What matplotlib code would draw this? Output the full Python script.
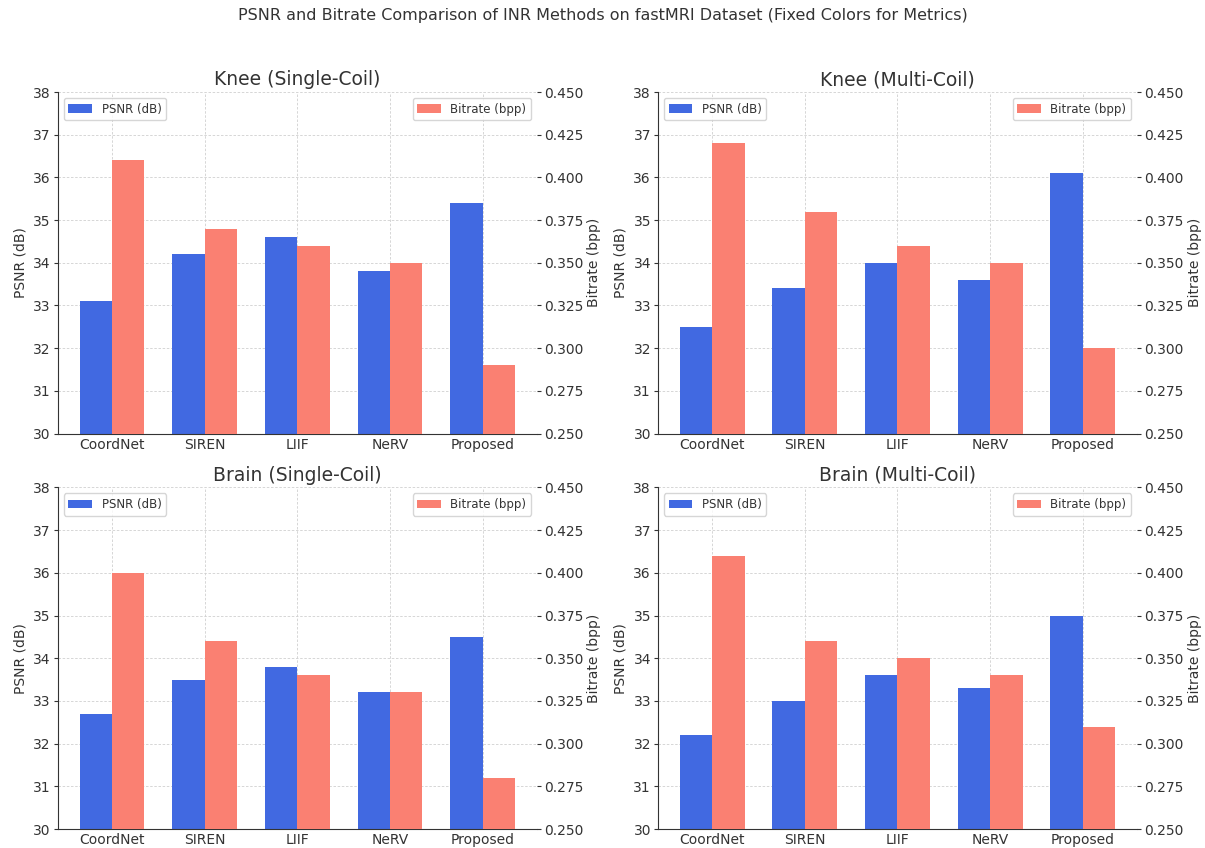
import matplotlib

matplotlib.use("Agg")
import matplotlib.pyplot as plt
import numpy as np

methods = ["CoordNet", "SIREN", "LIIF", "NeRV", "Proposed"]
panel_titles = [
    "Knee (Single-Coil)",
    "Knee (Multi-Coil)",
    "Brain (Single-Coil)",
    "Brain (Multi-Coil)",
]

psnr_knee_single = [33.1, 34.2, 34.6, 33.8, 35.4]
psnr_knee_multi = [32.5, 33.4, 34.0, 33.6, 36.1]
psnr_brain_single = [32.7, 33.5, 33.8, 33.2, 34.5]
psnr_brain_multi = [32.2, 33.0, 33.6, 33.3, 35.0]

bpp_knee_single = [0.41, 0.37, 0.36, 0.35, 0.29]
bpp_knee_multi = [0.42, 0.38, 0.36, 0.35, 0.30]
bpp_brain_single = [0.40, 0.36, 0.34, 0.33, 0.28]
bpp_brain_multi = [0.41, 0.36, 0.35, 0.34, 0.31]

psnr_sets = [psnr_knee_single, psnr_knee_multi, psnr_brain_single, psnr_brain_multi]
bpp_sets = [bpp_knee_single, bpp_knee_multi, bpp_brain_single, bpp_brain_multi]

psnr_color = "royalblue"
bpp_color = "salmon"
text_color = "#333333"
bar_width = 0.35

plt.rcParams["font.family"] = "DejaVu Sans"
plt.rcParams["text.color"] = text_color
plt.rcParams["axes.labelcolor"] = text_color
plt.rcParams["xtick.color"] = text_color
plt.rcParams["ytick.color"] = text_color

fig, axes = plt.subplots(2, 2, figsize=(12.05, 8.48), dpi=100)
fig.subplots_adjust(
    left=0.048, right=0.9436, top=0.8915, bottom=0.0224, wspace=0.2526, hspace=0.158
)

x = np.arange(len(methods))

for ax1, title, psnr, bpp in zip(axes.flat, panel_titles, psnr_sets, bpp_sets):
    ax1.bar(x - bar_width / 2, psnr, bar_width, color=psnr_color, label="PSNR (dB)")
    ax1.set_ylim(30, 38)
    ax1.set_ylabel("PSNR (dB)", fontsize=10, labelpad=4)
    ax1.set_xticks(x)
    ax1.set_xticklabels(methods, fontsize=10)
    ax1.tick_params(axis="x", length=0, pad=3)
    ax1.tick_params(axis="y", labelsize=10, length=3, pad=2)
    ax1.set_axisbelow(True)
    ax1.grid(True, linestyle=(0, (3, 2)), color="#d0d0d0", linewidth=0.6)
    ax1.spines["top"].set_visible(False)
    ax1.spines["right"].set_visible(False)
    ax1.spines["left"].set_color(text_color)
    ax1.spines["bottom"].set_color(text_color)
    ax1.set_title(title, fontsize=13.5, pad=5)
    ax1.legend(loc="upper left", fontsize=8.5, fancybox=True, edgecolor="#cccccc")

    ax2 = ax1.twinx()
    ax2.bar(x + bar_width / 2, bpp, bar_width, color=bpp_color, label="Bitrate (bpp)")
    ax2.set_ylim(0.25, 0.45)
    ax2.set_yticks(np.arange(0.25, 0.4501, 0.025))
    ax2.yaxis.set_major_formatter(matplotlib.ticker.FormatStrFormatter("%.3f"))
    ax2.set_ylabel("Bitrate (bpp)", fontsize=10, labelpad=3)
    ax2.tick_params(axis="y", labelsize=10, length=3, pad=2)
    for side in ["top", "right", "left", "bottom"]:
        ax2.spines[side].set_visible(False)
    ax2.legend(loc="upper right", fontsize=8.5, fancybox=True, edgecolor="#cccccc")

fig.suptitle(
    "PSNR and Bitrate Comparison of INR Methods on fastMRI Dataset (Fixed Colors for Metrics)",
    fontsize=11.5,
    y=0.99,
)

fig.savefig("out.png", dpi=100)
